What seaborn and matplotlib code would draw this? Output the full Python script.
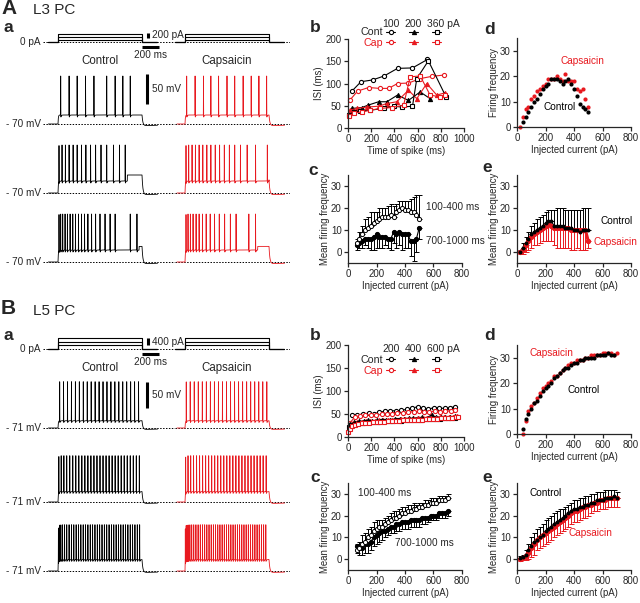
import numpy as np
import pandas as pd
import matplotlib
matplotlib.use("Agg")
import matplotlib.pyplot as plt
from matplotlib.lines import Line2D
import seaborn as sns

RED = "#e8191f"

# ---------------- data ----------------
# protocol step currents (pA)
A_currents = [100, 200, 360]
B_currents = [200, 400, 600]

# spike times (ms after step onset) for the example traces
A_ctrl_spikes = [
    [32, 132, 228, 328, 428, 580, 680, 772, 860],
    [12, 48, 88, 132, 180, 228, 280, 332, 388, 448, 512, 580, 660, 732, 800],
    [12, 32, 56, 84, 112, 144, 176, 208, 244, 280, 316, 356, 400, 448, 500, 560, 620, 680, 860, 940],
]
A_cap_spikes = [
    [20, 120, 220, 308, 400, 500, 592, 692, 788, 880, 972],
    [12, 44, 84, 124, 168, 212, 260, 308, 360, 412, 468, 528, 592, 660, 740, 840, 980],
    [12, 36, 64, 96, 132, 168, 208, 252, 300, 352, 408, 472, 540, 608, 760, 840],
]
B_ctrl_spikes = [
    [20, 66, 113, 160, 207, 254, 301, 348, 395, 442, 489, 536, 583, 630, 677, 724, 771, 818, 865, 912, 959],
    [10, 38, 70, 104, 140, 176, 212, 248, 284, 320, 356, 392, 428, 464, 500, 536, 572, 608, 644, 680,
     716, 752, 788, 824, 860, 896, 932, 968],
    [5, 18, 34, 54, 78, 104, 132, 160, 188, 216, 244, 272, 300, 328, 356, 384, 412, 440, 468, 496, 524,
     552, 580, 608, 636, 664, 692, 720, 748, 776, 804, 832, 860, 888, 916, 944, 972],
]
B_cap_spikes = [
    [15, 62, 110, 158, 206, 254, 302, 350, 398, 446, 494, 542, 590, 638, 686, 734, 782, 830, 878, 926, 974],
    [8, 36, 68, 102, 138, 174, 210, 246, 282, 318, 354, 390, 426, 462, 498, 534, 570, 606, 642, 678,
     714, 750, 786, 822, 858, 894, 930, 966],
    [4, 14, 26, 40, 58, 80, 104, 130, 156, 182, 208, 234, 260, 286, 312, 338, 364, 390, 416, 442, 468,
     494, 520, 546, 572, 598, 624, 650, 676, 702, 728, 754, 780, 806, 832, 858, 884, 910, 936, 962],
]
A_rest, B_rest = -70, -71
A_peak, B_peak = 10, 18
# depolarisation during the step (mV above rest): while firing, after firing stops
A_ctrl_plateau = [(15, 15), (20, 30), (20, 26)]
A_cap_plateau = [(15, 15), (20, 22), (20, 26)]
B_ctrl_plateau = [(14, 14), (20, 20), (22, 22)]
B_cap_plateau = [(14, 14), (20, 20), (22, 22)]

# A b : ISI vs time of spike
Ab_cont100_t = [34, 112, 212, 312, 427, 556, 685]
Ab_cont100 = [83, 104, 108, 117, 134, 135, 154]
Ab_cap100_t = [14, 83, 178, 272, 350, 427, 521, 622, 722, 828]
Ab_cap100 = [62, 83, 91, 89, 89, 100, 101, 111, 116, 119]
Ab_cont200_t = [34, 120, 169, 264, 335, 427, 521, 622, 708]
Ab_cont200 = [44, 46, 51, 59, 59, 74, 62, 81, 66]
Ab_cap200_t = [14, 77, 163, 264, 335, 421, 521, 593, 679, 765, 837]
Ab_cap200 = [40, 44, 47, 49, 55, 59, 85, 66, 100, 74, 79]
Ab_cont360_t = [6, 49, 106, 192, 307, 393, 464, 556, 593, 693, 845]
Ab_cont360 = [29, 36, 38, 40, 44, 49, 47, 49, 111, 151, 70]
Ab_cap360_t = [6, 49, 120, 192, 278, 378, 479, 536, 622, 708, 794, 837]
Ab_cap360 = [26, 34, 36, 40, 44, 46, 51, 115, 117, 74, 70, 74]

# B b
Bb_cont200_t = [35, 80, 130, 180, 225, 270, 320, 365, 410, 460, 505, 550, 600, 645, 690, 740, 785, 835, 880, 920]
Bb_cont200 = [47, 48, 50, 52, 50, 54, 56, 57, 57, 58, 60, 62, 66, 62, 60, 64, 63, 62, 63, 66]
Bb_cap200_t = [15, 60, 105, 150, 195, 245, 290, 335, 380, 425, 470, 520, 565, 610, 655, 700, 750, 795, 840, 885, 920]
Bb_cap200 = [30, 44, 46, 47, 48, 47, 50, 50, 51, 52, 52, 54, 55, 56, 55, 54, 56, 55, 57, 56, 58]
Bb_cont400_t = [20, 55, 95, 135, 170, 210, 250, 290, 330, 365, 405, 445, 485, 525, 560, 600, 640, 680, 720,
                760, 800, 840, 880, 920]
Bb_cont400 = [28, 33, 34, 35, 36, 35, 36, 37, 38, 38, 39, 40, 40, 41, 41, 42, 43, 42, 48, 43, 44, 43, 44, 45]
Bb_cap400_t = [10, 45, 80, 118, 155, 192, 230, 268, 305, 342, 380, 418, 455, 493, 530, 568, 605, 643, 680,
               718, 755, 793, 830, 868, 905, 940]
Bb_cap400 = [20, 30, 32, 33, 34, 35, 35, 36, 37, 37, 38, 38, 39, 39, 40, 40, 41, 41, 42, 42, 42, 43, 43,
             44, 44, 45]
Bb_cont600_t = [5, 30, 60, 92, 125, 158, 192, 225, 258, 292, 325, 358, 392, 425, 458, 492, 525, 558, 592,
                625, 658, 692, 725, 758, 792, 825, 858, 892, 925]
Bb_cont600 = [22, 26, 28, 30, 31, 32, 32, 33, 33, 34, 34, 35, 35, 36, 34, 36, 37, 37, 38, 38, 39, 39, 40,
              40, 40, 41, 41, 42, 42]
Bb_cap600_t = [3, 15, 35, 60, 88, 118, 150, 182, 215, 248, 280, 312, 345, 378, 410, 442, 475, 508, 540, 572,
               605, 638, 670, 702, 735, 768, 800, 832, 865, 898, 930, 950]
Bb_cap600 = [10, 18, 24, 27, 29, 30, 30, 31, 32, 32, 33, 33, 34, 34, 35, 35, 36, 36, 37, 37, 38, 38, 39,
             39, 40, 40, 41, 41, 42, 42, 43, 43]

# A c : mean firing frequency, early (100-400 ms) vs late (700-1000 ms)
Ac_x = list(range(60, 520, 20))
Ac_early = [4, 6, 8, 10, 11, 12, 13, 14, 15, 16, 16, 16, 17, 16, 18, 19, 20, 19, 19, 18, 18, 17, 15]
Ac_early_err = [2, 3, 4, 5, 5, 6, 5, 4, 5, 4, 4, 5, 5, 5, 4, 4, 3, 4, 4, 6, 7, 9, 11]
Ac_late = [3, 4, 5, 6, 6, 6, 7, 8, 7, 7, 7, 6, 6, 9, 8, 9, 8, 8, 8, 5, 5, 6, 11]
Ac_late_err = [2, 2, 3, 3, 4, 5, 6, 6, 5, 5, 4, 4, 5, 5, 6, 6, 7, 6, 6, 7, 9, 6, 5]

# A d : firing frequency
Ad_ctrl_x = list(range(40, 520, 20))
Ad_ctrl = [2, 4, 6, 8, 10, 11, 13, 15, 16, 17, 19, 19, 19, 18, 17, 18, 19, 17, 15, 12, 9, 8, 7, 6]
Ad_cap_x = list(range(20, 520, 20))
Ad_cap = [0, 4, 7, 8, 11, 12, 14, 15, 16, 17, 19, 19, 19, 20, 19, 18, 21, 18, 18, 18, 15, 14, 15, 11, 8]

# A e : mean firing frequency
Ae_x = list(range(20, 520, 20))
Ae_ctrl = [0, 2, 4, 6, 8, 9, 10, 11, 12, 13, 14, 14, 12, 12, 12, 12, 11, 11, 11, 10, 10, 9, 10, 10, 10]
Ae_ctrl_err = [1, 2, 3, 3, 4, 4, 5, 5, 5, 5, 5, 5, 7, 8, 8, 8, 8, 8, 8, 9, 9, 10, 10, 10, 10]
Ae_cap = [0, 1, 3, 5, 7, 8, 9, 10, 11, 12, 13, 12, 11, 11, 11, 11, 11, 11, 10, 10, 10, 10, 10, 10, 5]
Ae_cap_err = [1, 2, 3, 4, 5, 5, 6, 6, 6, 7, 8, 7, 8, 9, 9, 9, 9, 9, 9, 9, 8, 9, 9, 9, 3]

# B c
Bc_x = list(range(60, 720, 20))
Bc_early = [4, 5, 7, 8, 10, 11, 13, 14, 15, 15, 16, 17, 18, 19, 19, 20, 21, 21, 22, 22, 23, 23, 24, 24,
            25, 25, 26, 26, 26, 27, 27, 27, 28]
Bc_early_err = [3, 3, 4, 4, 4, 4, 4, 4, 3, 3, 3, 3, 3, 3, 3, 3, 3, 3, 3, 3, 3, 2, 2, 2, 2, 2, 2, 2, 2, 2,
                2, 2, 2]
Bc_late = [6, 5, 5, 7, 7, 8, 10, 11, 12, 13, 13, 14, 15, 15, 16, 16, 17, 17, 17, 18, 18, 18, 18, 19, 19,
           19, 20, 20, 20, 21, 21, 21, 22]
Bc_late_err = [3, 3, 3, 4, 4, 4, 4, 4, 4, 4, 3, 3, 3, 3, 3, 3, 3, 3, 3, 3, 3, 3, 3, 3, 3, 2, 2, 2, 2, 2,
               2, 2, 2]

# B d
Bd_ctrl_x = list(range(40, 700, 20))
Bd_ctrl = [2, 6, 8, 10, 12, 13, 15, 17, 18, 19, 20, 22, 23, 24, 25, 26, 26, 27, 28, 28, 29, 29, 30, 30,
           30, 30, 31, 31, 31, 31, 32, 31, 31]
Bd_cap_x = list(range(40, 720, 20))
Bd_cap = [0, 5, 9, 11, 12, 14, 16, 18, 19, 20, 21, 23, 23, 24, 25, 26, 27, 28, 28, 29, 29, 29, 30, 30,
          31, 31, 31, 31, 32, 32, 32, 32, 31, 32]

# B e
Be_x = list(range(20, 720, 20))
Be_ctrl = [0.5, 1, 2, 4, 6, 8, 9, 10, 11, 13, 14, 15, 16, 17, 18, 19, 20, 21, 22, 23, 23, 24, 24, 25,
           25, 26, 26, 27, 27, 27, 28, 28, 28, 29, 28]
Be_ctrl_err = [1, 1, 2, 3, 4, 4, 5, 5, 5, 5, 5, 5, 5, 5, 5, 4, 4, 4, 4, 4, 4, 4, 4, 4, 4, 4, 4, 4, 4, 4,
               4, 4, 4, 3, 3]
Be_cap = [0, 0.5, 1.5, 3, 5, 7, 9, 10, 11, 12, 13, 14, 15, 16, 17, 18, 19, 20, 21, 22, 22, 23, 24, 24,
          25, 25, 26, 26, 27, 27, 27, 28, 28, 28, 28]
Be_cap_err = [1, 1, 2, 3, 4, 5, 5, 5, 5, 5, 5, 5, 5, 5, 5, 5, 5, 5, 5, 5, 5, 5, 5, 5, 5, 4, 4, 4, 4, 4,
              4, 4, 4, 4, 4]

# ---------------- style ----------------
sns.set_style("ticks")
plt.rcParams['font.family'] = ['Liberation Sans', 'DejaVu Sans']
plt.rcParams['axes.linewidth'] = 0.9
plt.rcParams['xtick.major.width'] = 0.9
plt.rcParams['ytick.major.width'] = 0.9
plt.rcParams['xtick.major.size'] = 3
plt.rcParams['ytick.major.size'] = 3
plt.rcParams['xtick.major.pad'] = 1.5
plt.rcParams['ytick.major.pad'] = 1.5
FS_TICK = 7
FS_LAB = 6.9
FS_TXT = 7.2

W, H = 640, 603
fig = plt.figure(figsize=(W / 100, H / 100), dpi=100)


def px_axes(x0, y0, x1, y1):
    return fig.add_axes([x0 / W, 1 - y1 / H, (x1 - x0) / W, (y1 - y0) / H])


def ftext(x, y, s, **kw):
    fig.text(x / W, 1 - y / H, s, **kw)


def make_trace(spikes, rest, peak, plateau, t0, t1):
    t = np.arange(t0, t1, 0.25)
    early, late = plateau
    last = spikes[-1] + 25
    lvl = np.where(t < last, early, late)
    v = np.full_like(t, float(rest))
    on = (t >= 0) & (t < 1000)
    v[on] = rest + lvl[on] * (1 - np.exp(-t[on] / 4))
    off = t >= 1000
    dt = t[off] - 1000
    v[off] = rest + late * np.exp(-dt / 10) - 3 * (1 - np.exp(-dt / 10)) * np.exp(-dt / 500)
    for ts in spikes:
        base = rest + (early if ts < last else late)
        v += (peak - base) * np.exp(-((t - ts) / 0.9) ** 2)
        post = t > ts
        v[post] -= 5 * np.exp(-(t[post] - ts) / 6)
    return t, v


# x-mapping of the trace columns (84 px per second)
PXMS = 0.084
CTRL_COL = (43, 175, 58)   # left px, right px, px of step onset
CAP_COL = (175, 290, 185)


def col_axes(col, top, bottom):
    x0, x1, xs = col
    ax = px_axes(x0, top, x1, bottom)
    ax.set_xlim((x0 - xs) / PXMS, (x1 - xs) / PXMS)
    ax.axis('off')
    return ax


def draw_part_a(y_letter, base_px, currents, ctrl_spikes, cap_spikes, rest, peak, ctrl_pl, cap_pl,
                pa_px, mv_px, base_rows, title, letter, vlabel, bar_pa):
    ftext(1, y_letter, letter, fontsize=15, fontweight='bold', va='center')
    ftext(33, y_letter + 2, title, fontsize=11, va='center')
    ftext(4, base_px - 14, 'a', fontsize=12.5, fontweight='bold', va='center')

    # stimulus protocol
    for col in [CTRL_COL, CAP_COL]:
        ax = col_axes(col, base_px - 14, base_px + 16)
        ax.set_ylim(-16 / pa_px, 14 / pa_px)
        ax.axhline(0, ls=(0, (1.5, 1.5)), lw=0.7, color='k')
        for c in currents:
            prot = pd.DataFrame({'t': [-120, 0, 0, 1000, 1000, 1180], 'I': [0, 0, c, c, 0, 0]})
            ax.plot(prot['t'], prot['I'], color='k', lw=0.8)
        if col is CTRL_COL:
            ax.plot([1000, 1200], [-4.5 / pa_px, -4.5 / pa_px], color='k', lw=2.2, solid_capstyle='butt')
            ax.text(1100, -8 / pa_px, '200 ms', ha='center', va='top', fontsize=FS_TXT)
            ax.plot([1072, 1072], [4 / pa_px, 4 / pa_px + bar_pa], color='k', lw=2.2,
                    solid_capstyle='butt')
            ax.text(1115, 7 / pa_px, f'{bar_pa} pA', ha='left', va='center', fontsize=FS_TXT)
    ftext(41, base_px, '0 pA', ha='right', va='center', fontsize=FS_TXT)
    ftext(100, base_px + 19, 'Control', ha='center', va='center', fontsize=8.3)
    ftext(227, base_px + 19, 'Capsaicin', ha='center', va='center', fontsize=8.3)

    # traces
    for i, base in enumerate(base_rows):
        top, bottom = base - 56, base + 8
        for col, spikes, pl, color in [(CTRL_COL, ctrl_spikes[i], ctrl_pl[i], 'k'),
                                       (CAP_COL, cap_spikes[i], cap_pl[i], RED)]:
            ax = col_axes(col, top, bottom)
            ax.set_ylim(rest - 8 / mv_px, rest + 56 / mv_px)
            ax.axhline(rest, ls=(0, (1.5, 1.5)), lw=0.7, color='k')
            t, v = make_trace(spikes, rest, peak, pl, -115 if col is CTRL_COL else -95, 1185)
            ax.plot(t, v, color=color, lw=0.6)
            if col is CTRL_COL and i == 0:
                ax.plot([1065, 1065], [rest + 20 / mv_px, rest + 20 / mv_px + 50], color='k', lw=2.2,
                        solid_capstyle='butt')
                ax.text(1115, rest + 20 / mv_px + 25, '50 mV', ha='left', va='center', fontsize=FS_TXT)
        ftext(41, base, f'- {vlabel} mV', ha='right', va='center', fontsize=FS_TXT)


draw_part_a(8, 42, A_currents, A_ctrl_spikes, A_cap_spikes, A_rest, A_peak, A_ctrl_plateau, A_cap_plateau,
            0.0233, 0.6, [124, 193, 262], 'L3 PC', 'A', 70, 200)
draw_part_a(309, 349, B_currents, B_ctrl_spikes, B_cap_spikes, B_rest, B_peak, B_ctrl_plateau,
            B_cap_plateau, 0.0178, 0.52, [428, 502, 571], 'L5 PC', 'B', 71, 400)


def style_axes(ax, xlim, ylim, xticks, yticks, xlabel, ylabel):
    ax.set_xlim(*xlim)
    ax.set_ylim(*ylim)
    ax.set_xticks(xticks)
    ax.set_yticks(yticks)
    ax.set_xlabel(xlabel, fontsize=FS_LAB, labelpad=1)
    ax.set_ylabel(ylabel, fontsize=FS_LAB, labelpad=1)
    ax.tick_params(labelsize=FS_TICK)
    sns.despine(ax=ax)


def isi_panel(ax, series, header, leg_top, head_y):
    handles = []
    for t, isi, color, marker, mfc in series:
        sns.lineplot(x=t, y=isi, ax=ax, color=color, marker=marker, markersize=3,
                     markerfacecolor=mfc, markeredgecolor=color, markeredgewidth=0.8, lw=0.8,
                     estimator=None, sort=False, clip_on=False)
        handles.append(Line2D([], [], color=color, marker=marker, markersize=3, markerfacecolor=mfc,
                              markeredgecolor=color, markeredgewidth=0.8, lw=0.8))
    style_axes(ax, (0, 1000), (0, 200), range(0, 1001, 200), range(0, 201, 50),
               'Time of spike (ms)', 'ISI (ms)')
    leg = ax.legend(handles, ['Cont', 'Cap', '', '', '', ''], ncol=3,
                    markerfirst=False, frameon=False, fontsize=7.7, handlelength=0.8,
                    handletextpad=0.3, columnspacing=1.05, labelspacing=0.05, borderpad=0,
                    loc='upper right', bbox_to_anchor=(0.80, leg_top), borderaxespad=0)
    leg.get_texts()[1].set_color(RED)
    for x, s in zip([0.37, 0.56, 0.68], header):
        ax.text(x, head_y, s, transform=ax.transAxes, ha='center' if x < 0.6 else 'left',
                va='center', fontsize=7.5)


def freq_panel(ax, x, early, early_err, late, late_err, txt):
    ax.errorbar(x, early, yerr=[np.zeros(len(x)), early_err], fmt='none', ecolor='k', elinewidth=0.7,
                capsize=1.8, capthick=0.7, clip_on=False)
    ax.errorbar(x, late, yerr=[late_err, np.zeros(len(x))], fmt='none', ecolor='k', elinewidth=0.7,
                capsize=1.8, capthick=0.7, clip_on=False)
    sns.lineplot(x=x, y=late, ax=ax, color='k', marker='o', markersize=3, markeredgecolor='k',
                 lw=0.8, estimator=None)
    sns.lineplot(x=x, y=early, ax=ax, color='k', marker='o', markersize=3, markerfacecolor='white',
                 markeredgecolor='k', markeredgewidth=0.7, lw=0.8, estimator=None)
    style_axes(ax, (0, 800), (-5, 35), range(0, 801, 200), range(0, 31, 10),
               'Injected current (pA)', 'Mean firing frequency')
    for (tx, ty, s) in txt:
        ax.text(tx, ty, s, transform=ax.transAxes, fontsize=FS_TXT, va='center')


def fi_panel(ax, cx, cy, kx, ky, txt):
    sns.scatterplot(x=kx, y=ky, ax=ax, color=RED, s=9, linewidth=0, clip_on=False)
    sns.scatterplot(x=cx, y=cy, ax=ax, color='k', s=9, linewidth=0, clip_on=False)
    style_axes(ax, (0, 800), (0, 35), range(0, 801, 200), range(0, 31, 10),
               'Injected current (pA)', 'Firing frequency')
    for (tx, ty, s, c) in txt:
        ax.text(tx, ty, s, transform=ax.transAxes, fontsize=FS_TXT, va='center', color=c)


def mean_panel(ax, x, c, cerr, k, kerr, txt):
    ax.errorbar(x, c, yerr=[np.zeros(len(x)), cerr], fmt='none', ecolor='k', elinewidth=0.7,
                capsize=1.8, capthick=0.7, clip_on=False)
    ax.errorbar(x, k, yerr=[kerr, np.zeros(len(x))], fmt='none', ecolor=RED, elinewidth=0.7,
                capsize=1.8, capthick=0.7, clip_on=False)
    sns.lineplot(x=x, y=c, ax=ax, color='k', lw=0.8, estimator=None)
    sns.lineplot(x=x, y=k, ax=ax, color=RED, lw=2.2, marker='o', markersize=3, markeredgecolor=RED,
                 estimator=None)
    sns.scatterplot(x=x, y=c, ax=ax, color='k', s=8, linewidth=0, zorder=5)
    style_axes(ax, (0, 800), (-5, 35), range(0, 801, 200), range(0, 31, 10),
               'Injected current (pA)', 'Mean firing frequency')
    for (tx, ty, s, col) in txt:
        ax.text(tx, ty, s, transform=ax.transAxes, fontsize=FS_TXT, va='center', color=col)


# ---------- A ----------
ax = px_axes(348, 39, 464, 128)
isi_panel(ax, [(Ab_cont100_t, Ab_cont100, 'k', 'o', 'white'), (Ab_cap100_t, Ab_cap100, RED, 'o', 'white'),
               (Ab_cont200_t, Ab_cont200, 'k', '^', 'k'), (Ab_cap200_t, Ab_cap200, RED, '^', RED),
               (Ab_cont360_t, Ab_cont360, 'k', 's', 'white'), (Ab_cap360_t, Ab_cap360, RED, 's', 'white')],
          ['100', '200', '360 pA'], 1.13, 1.17)
ax = px_axes(348, 175, 462, 263)
freq_panel(ax, Ac_x, Ac_early, Ac_early_err, Ac_late, Ac_late_err,
           [(0.68, 0.64, '100-400 ms'), (0.68, 0.25, '700-1000 ms')])
ax = px_axes(517, 38, 631, 127)
fi_panel(ax, Ad_ctrl_x, Ad_ctrl, Ad_cap_x, Ad_cap,
         [(0.38, 0.74, 'Capsaicin', RED), (0.23, 0.22, 'Control', 'k')])
ax = px_axes(517, 175, 631, 263)
mean_panel(ax, Ae_x, Ae_ctrl, Ae_ctrl_err, Ae_cap, Ae_cap_err,
           [(0.73, 0.48, 'Control', 'k'), (0.67, 0.24, 'Capsaicin', RED)])

# ---------- B ----------
ax = px_axes(348, 345, 464, 437)
isi_panel(ax, [(Bb_cont200_t, Bb_cont200, 'k', 'o', 'white'), (Bb_cap200_t, Bb_cap200, RED, 'o', 'white'),
               (Bb_cont400_t, Bb_cont400, 'k', '^', 'k'), (Bb_cap400_t, Bb_cap400, RED, '^', RED),
               (Bb_cont600_t, Bb_cont600, 'k', 's', 'white'), (Bb_cap600_t, Bb_cap600, RED, 's', 'white')],
          ['200', '400', '600 pA'], 0.89, 0.955)
ax = px_axes(348, 483, 462, 570)
freq_panel(ax, Bc_x, Bc_early, Bc_early_err, Bc_late, Bc_late_err,
           [(0.09, 0.88, '100-400 ms'), (0.41, 0.31, '700-1000 ms')])
ax = px_axes(517, 345, 631, 434)
fi_panel(ax, Bd_ctrl_x, Bd_ctrl, Bd_cap_x, Bd_cap,
         [(0.11, 0.91, 'Capsaicin', RED), (0.44, 0.50, 'Control', 'k')])
ax = px_axes(517, 483, 631, 570)
mean_panel(ax, Be_x, Be_ctrl, Be_ctrl_err, Be_cap, Be_cap_err,
           [(0.11, 0.88, 'Control', 'k'), (0.45, 0.43, 'Capsaicin', RED)])

# panel letters for b-e
for x, y, s in [(315, 28, 'b'), (313, 170, 'c'), (490, 29, 'd'), (487, 167, 'e'),
                (315, 336, 'b'), (315, 477, 'c'), (490, 335, 'd'), (487, 477, 'e')]:
    ftext(x, y, s, fontsize=12.5, fontweight='bold', va='center', ha='center')

fig.savefig("out.png", dpi=100)
